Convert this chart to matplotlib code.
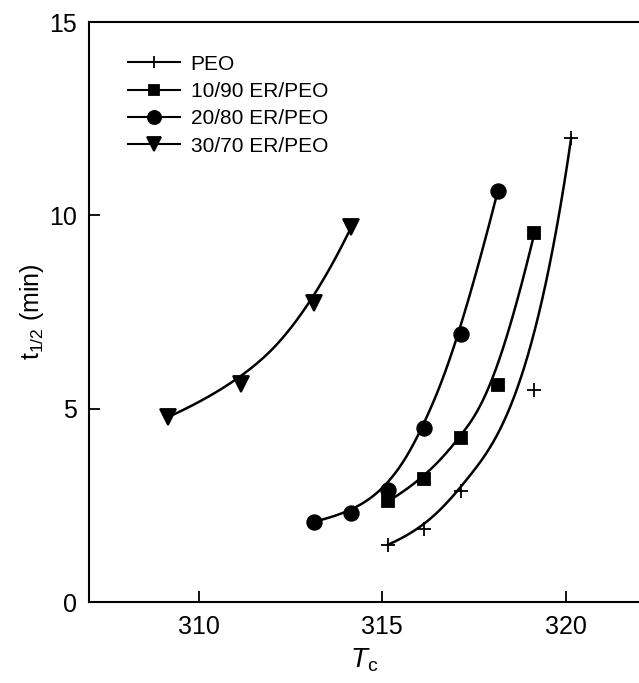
import numpy as np
import matplotlib.pyplot as plt
from matplotlib.lines import Line2D

plt.rcParams['font.family'] = ['Liberation Sans', 'DejaVu Sans']
plt.rcParams['mathtext.fontset'] = 'custom'
plt.rcParams['mathtext.rm'] = 'Liberation Sans'
plt.rcParams['mathtext.it'] = 'Liberation Sans:italic'

# crystallization temperature (K) and half time (min)
tc_peo = [315.15, 316.15, 317.15, 319.15, 320.15]
t_peo = [1.48, 1.9, 2.88, 5.48, 12.0]
tc_10 = [315.15, 316.15, 317.15, 318.15, 319.15]
t_10 = [2.6, 3.18, 4.25, 5.62, 9.55]
tc_20 = [313.15, 314.15, 315.15, 316.15, 317.15, 318.15]
t_20 = [2.08, 2.31, 2.9, 4.49, 6.92, 10.63]
tc_30 = [309.15, 311.15, 313.15, 314.15]
t_30 = [4.78, 5.64, 7.74, 9.69]

labels = ['PEO', '10/90 ER/PEO', '20/80 ER/PEO', '30/70 ER/PEO']
markers = ['+', 's', 'o', 'v']
msizes = [10, 8, 10.5, 11]


def bspline(x, y, num=300):
    # clamped B-spline using the data points as control points
    P = np.column_stack([x, y])
    n = len(P)
    k = min(3, n - 2)
    inner = list(np.linspace(0, 1, n - k + 1)[1:-1])
    t = np.array([0.0] * (k + 1) + inner + [1.0] * (k + 1))
    u = np.linspace(0, 1, num)
    u[-1] -= 1e-9
    N = np.zeros((num, len(t) - 1))
    for i in range(len(t) - 1):
        N[:, i] = (u >= t[i]) & (u < t[i + 1])
    for d in range(1, k + 1):
        Nn = np.zeros((num, len(t) - 1 - d))
        for i in range(len(t) - 1 - d):
            a = 0.0
            if t[i + d] > t[i]:
                a = (u - t[i]) / (t[i + d] - t[i]) * N[:, i]
            b = 0.0
            if t[i + d + 1] > t[i + 1]:
                b = (t[i + d + 1] - u) / (t[i + d + 1] - t[i + 1]) * N[:, i + 1]
            Nn[:, i] = a + b
        N = Nn
    C = N @ P
    return C[:, 0], C[:, 1]


fig = plt.figure(figsize=(6.39, 6.83), dpi=100)
ax = fig.add_axes([89/639, 81/683, 550/639, 580/683])

series = [(tc_peo, t_peo), (tc_10, t_10), (tc_20, t_20), (tc_30, t_30)]
handles = []
for (x, y), m, ms, lab in zip(series, markers, msizes, labels):
    cx, cy = bspline(x, y)
    ax.plot(cx, cy, color='k', lw=1.8, zorder=2)
    ax.plot(x, y, ls='none', marker=m, ms=ms, color='k', mew=1.3, zorder=3)
    handles.append(Line2D([], [], color='k', lw=1.5, marker=m, ms=ms*0.9, mew=1.3))

leg = ax.legend(handles, labels, loc='upper left', bbox_to_anchor=(0.056, 0.958),
                frameon=False, fontsize=15, handlelength=2.5, handletextpad=0.5,
                labelspacing=0.4, borderaxespad=0)

ax.set_xlim(307, 322)
ax.set_ylim(0, 15)
ax.set_xticks([310, 315, 320])
ax.set_yticks([0, 5, 10, 15])
ax.tick_params(direction='in', length=8, width=1.3, labelsize=18, pad=9)
ax.spines['right'].set_visible(False)
for s in ['left', 'bottom', 'top']:
    ax.spines[s].set_linewidth(1.5)

ax.set_xlabel(r'$T$$_{\rm c}$', fontsize=20, labelpad=6)
ax.set_ylabel(r't$_{1/2}$ (min)', fontsize=18, labelpad=2)

fig.savefig('out.png', dpi=100)
